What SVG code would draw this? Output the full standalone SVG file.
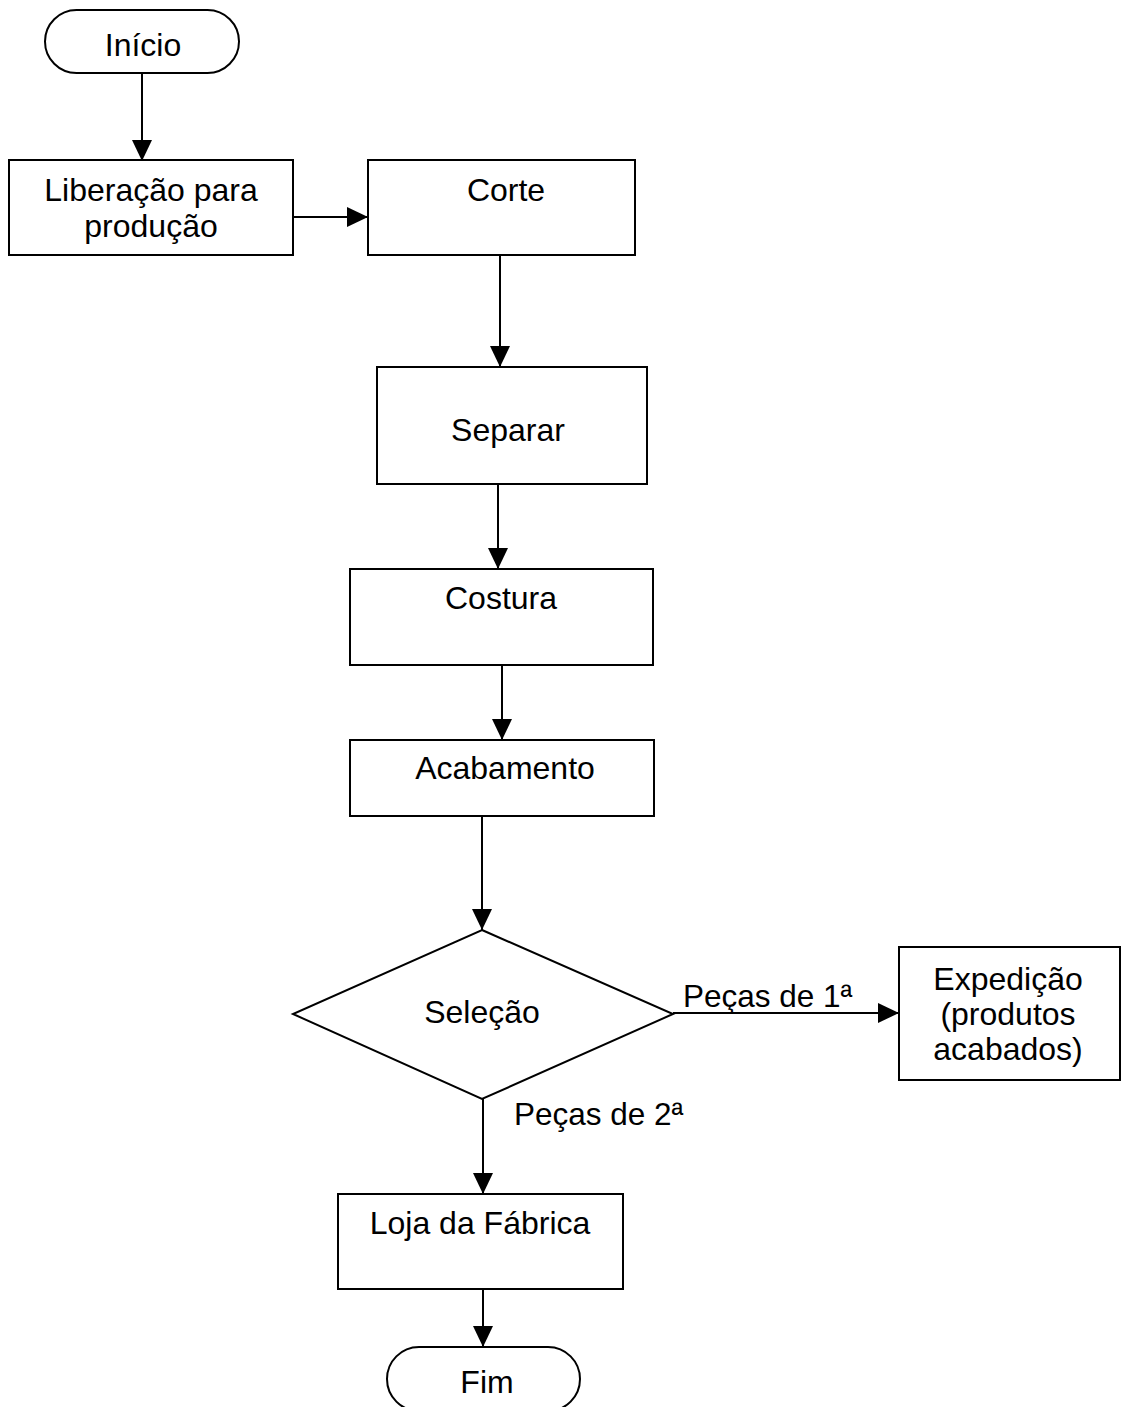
<svg xmlns="http://www.w3.org/2000/svg" width="1122" height="1407" viewBox="0 0 1122 1407">
<style>
.box{fill:#fff;stroke:#000;stroke-width:2}
.lbl{font-family:"Liberation Sans",Arial,sans-serif;font-size:32px;fill:#000;text-anchor:middle}
.lbl2{font-family:"Liberation Sans",Arial,sans-serif;font-size:31.5px;fill:#000}
.con{fill:none;stroke:#000;stroke-width:2}
</style>
<defs>
<marker id="arr" viewBox="0 0 20 20" refX="20" refY="10" markerWidth="21" markerHeight="20" markerUnits="userSpaceOnUse" orient="auto" preserveAspectRatio="none">
<path d="M0,0 L20,10 L0,20 Z" fill="#000"/>
</marker>
</defs>
<rect width="1122" height="1407" fill="#fff"/>
<g id="connectors">
<line class="con" x1="142" y1="73" x2="142" y2="161" marker-end="url(#arr)"/>
<line class="con" x1="293" y1="217" x2="368" y2="217" marker-end="url(#arr)"/>
<line class="con" x1="500" y1="255" x2="500" y2="367" marker-end="url(#arr)"/>
<line class="con" x1="498" y1="484" x2="498" y2="569" marker-end="url(#arr)"/>
<line class="con" x1="502" y1="665" x2="502" y2="740" marker-end="url(#arr)"/>
<line class="con" x1="482" y1="816" x2="482" y2="930" marker-end="url(#arr)"/>
<line class="con" x1="673" y1="1013" x2="899" y2="1013" marker-end="url(#arr)"/>
<line class="con" x1="483" y1="1099" x2="483" y2="1194" marker-end="url(#arr)"/>
<line class="con" x1="483" y1="1289" x2="483" y2="1347" marker-end="url(#arr)"/>
<text class="lbl2" x="683" y="1007">Peças de 1ª</text>
<text class="lbl2" x="514" y="1125">Peças de 2ª</text>
</g>
<g id="inicio">
<rect class="box" x="45" y="10" width="194" height="63" rx="31.5" ry="31.5"/>
<text class="lbl" x="143" y="56">Início</text>
</g>
<g id="liberacao">
<rect class="box" x="9" y="160" width="284" height="95"/>
<text class="lbl" x="151" y="201">Liberação para</text>
<text class="lbl" x="151" y="237">produção</text>
</g>
<g id="corte">
<rect class="box" x="368" y="160" width="267" height="95"/>
<text class="lbl" x="506" y="201">Corte</text>
</g>
<g id="separar">
<rect class="box" x="377" y="367" width="270" height="117"/>
<text class="lbl" x="508" y="441">Separar</text>
</g>
<g id="costura">
<rect class="box" x="350" y="569" width="303" height="96"/>
<text class="lbl" x="501" y="609">Costura</text>
</g>
<g id="acabamento">
<rect class="box" x="350" y="740" width="304" height="76"/>
<text class="lbl" x="505" y="779">Acabamento</text>
</g>
<g id="selecao">
<polygon class="box" points="482,930 673,1014 482,1099 293,1014"/>
<text class="lbl" x="482" y="1023">Seleção</text>
</g>
<g id="expedicao">
<rect class="box" x="899" y="947" width="221" height="133"/>
<text class="lbl" x="1008" y="990">Expedição</text>
<text class="lbl" x="1008" y="1025">(produtos</text>
<text class="lbl" x="1008" y="1060">acabados)</text>
</g>
<g id="loja">
<rect class="box" x="338" y="1194" width="285" height="95"/>
<text class="lbl" x="480" y="1234">Loja da Fábrica</text>
</g>
<g id="fim">
<rect class="box" x="387" y="1347" width="193" height="64" rx="32" ry="32"/>
<text class="lbl" x="487" y="1393">Fim</text>
</g>
</svg>
